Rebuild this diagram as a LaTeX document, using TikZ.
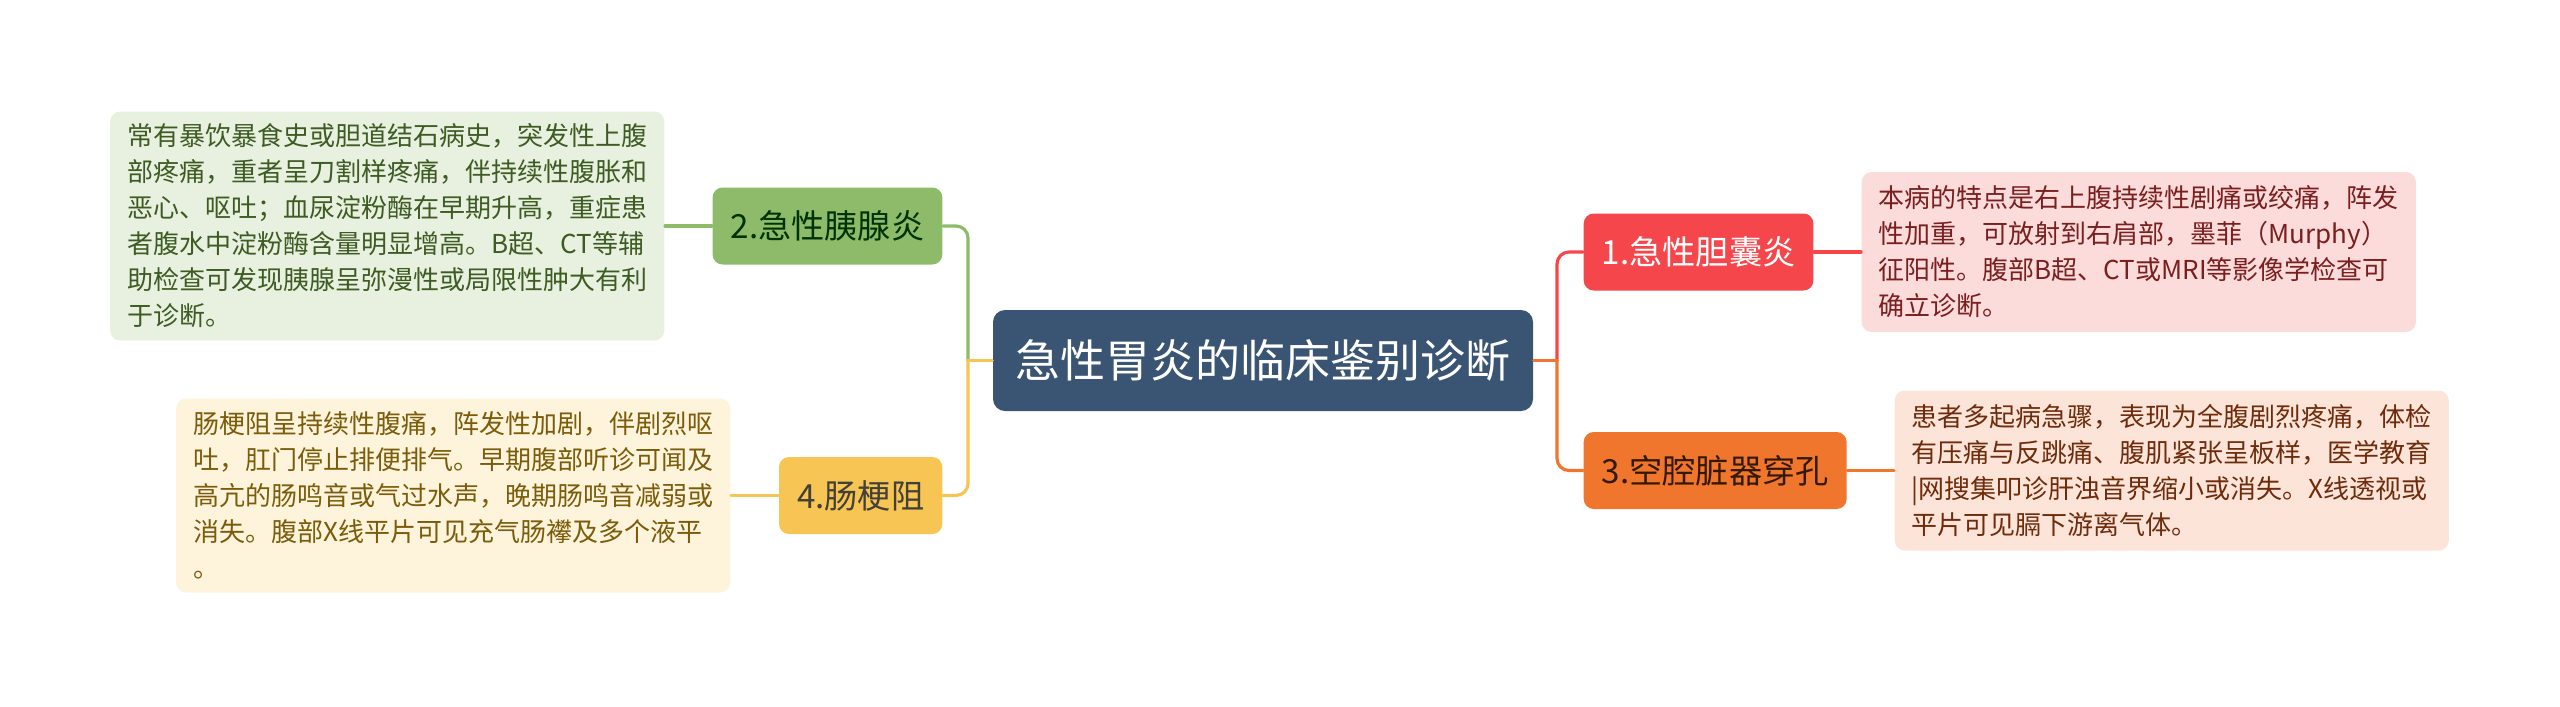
\documentclass[tikz,border=0pt]{standalone}
\usepackage{fontspec}
\newfontfamily\cjk{Noto Sans CJK SC}
\definecolor{rootfill}{HTML}{3A5573}
\definecolor{redfill}{HTML}{F5474B}
\definecolor{orangefill}{HTML}{F0752D}
\definecolor{greenfill}{HTML}{8DBB69}
\definecolor{yellowfill}{HTML}{F7C553}
\definecolor{redpale}{HTML}{FCDBDB}
\definecolor{orangepale}{HTML}{FCE5D8}
\definecolor{greenpale}{HTML}{E8F1E0}
\definecolor{yellowpale}{HTML}{FEF4DB}
\definecolor{redtext}{HTML}{7A1F1F}
\definecolor{orangetext}{HTML}{6E2C0D}
\definecolor{greentext}{HTML}{3E5B23}
\definecolor{yellowtext}{HTML}{7B5C0B}

\begin{document}
\begin{tikzpicture}[line cap=round,line join=round,
  root/.style={fill=rootfill,rounded corners=0.12cm,text=white,font=\cjk\fontsize{12.8pt}{16pt}\selectfont,inner xsep=0.05cm,minimum width=5.4cm,minimum height=1.01cm},
  branch/.style={rounded corners=0.1cm,font=\cjk\fontsize{9.45pt}{11pt}\selectfont,minimum height=0.77cm,inner xsep=0.18cm},
  note/.style={rounded corners=0.1cm,align=left,font=\cjk\fontsize{7.4pt}{10.24pt}\selectfont,inner xsep=0.17cm,minimum width=5.52cm},
  link/.style={line width=0.9pt,rounded corners=0.12cm}]
\useasboundingbox (0,0) rectangle (25.6,7.06);
% centre
\node[root] (root) at (12.63,3.455) {急性胃炎的临床鉴别诊断};
% branches
\node[branch,fill=redfill,text=white,anchor=west] (gall) at (15.83,4.54) {1.急性胆囊炎};
\node[branch,fill=greenfill,text=black!80!green,anchor=east] (pancreas) at (9.43,4.80) {2.急性胰腺炎};
\node[branch,fill=orangefill,text=black!80!orange,anchor=west] (perf) at (15.83,2.355) {3.空腔脏器穿孔};
\node[branch,fill=yellowfill,text=black!85!yellow,anchor=east] (ileus) at (9.43,2.105) {4.肠梗阻};
% notes
\node[note,fill=redpale,text=redtext,anchor=west,minimum height=1.60cm] (gallnote) at (18.61,4.54) {本病的特点是右上腹持续性剧痛或绞痛，阵发\\性加重，可放射到右肩部，墨菲（Murphy）\\征阳性。腹部B超、CT或MRI等影像学检查可\\确立诊断。};
\node[note,fill=greenpale,text=greentext,anchor=east,minimum height=2.29cm] (pancnote) at (6.65,4.80) {常有暴饮暴食史或胆道结石病史，突发性上腹\\部疼痛，重者呈刀割样疼痛，伴持续性腹胀和\\恶心、呕吐；血尿淀粉酶在早期升高，重症患\\者腹水中淀粉酶含量明显增高。B超、CT等辅\\助检查可发现胰腺呈弥漫性或局限性肿大有利\\于诊断。};
\node[note,fill=orangepale,text=orangetext,anchor=west,minimum height=1.60cm] (perfnote) at (18.94,2.355) {患者多起病急骤，表现为全腹剧烈疼痛，体检\\有压痛与反跳痛、腹肌紧张呈板样，医学教育\\|网搜集叩诊肝浊音界缩小或消失。X线透视或\\平片可见膈下游离气体。};
\node[note,fill=yellowpale,text=yellowtext,anchor=east,minimum height=1.94cm] (ileusnote) at (7.31,2.105) {肠梗阻呈持续性腹痛，阵发性加剧，伴剧烈呕\\吐，肛门停止排便排气。早期腹部听诊可闻及\\高亢的肠鸣音或气过水声，晚期肠鸣音减弱或\\消失。腹部X线平片可见充气肠襻及多个液平\\。};
% connectors
\coordinate (lj) at (9.68,3.455);
\coordinate (rj) at (15.57,3.455);
\draw[link,draw=greenfill] (lj) |- (pancreas.east);
\draw[link,draw=yellowfill] (lj) |- (ileus.east);
\draw[link,draw=yellowfill] (root.west) -- (lj);
\draw[link,draw=redfill] (rj) |- (gall.west);
\draw[link,draw=orangefill] (rj) |- (perf.west);
\draw[link,draw=orangefill] (root.east) -- (rj);
\draw[link,draw=redfill] (gall.east) -- (gallnote.west);
\draw[link,draw=greenfill] (pancreas.west) -- (pancnote.east);
\draw[link,draw=orangefill] (perf.east) -- (perfnote.west);
\draw[link,draw=yellowfill] (ileus.west) -- (ileusnote.east);
\end{tikzpicture}
\end{document}
